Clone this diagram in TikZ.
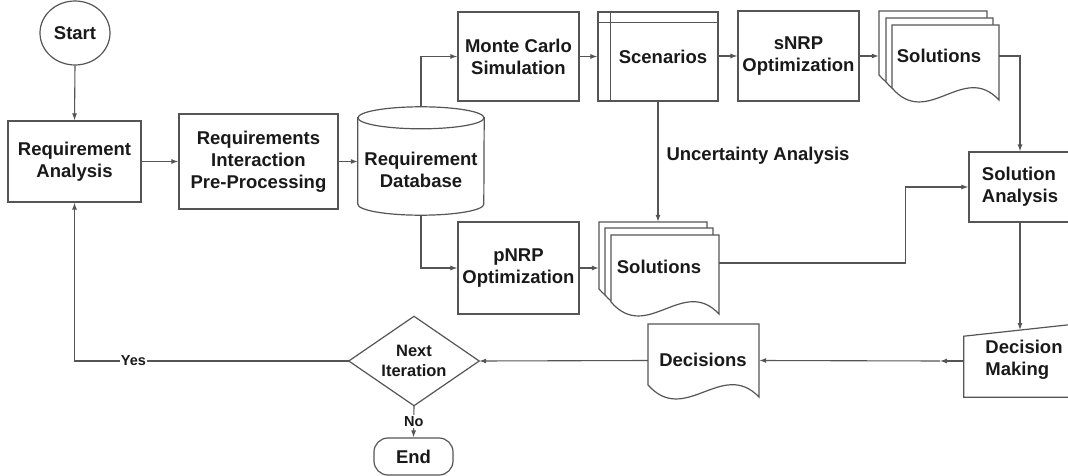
\documentclass[tikz,border=0pt]{standalone}
\usepackage{fontspec}
\setmainfont{Liberation Sans}
\usetikzlibrary{arrows.meta,calc,shapes.geometric}
\definecolor{lc}{HTML}{555555}
\newcommand\mydoc[4]{%
  \draw[ln,fill=white] (#1,#2) -- (#3,#2) -- (#3,#4)
    .. controls ({#1+2*(#3-#1)/3},{#4-38.5}) and ({#1+(#3-#1)/3},{#4+29.5}) .. (#1,{#4-12}) -- cycle;}
\tikzset{
  ln/.style={draw=lc,line width=1.2pt},
  arr/.style={draw=lc,line width=1.1pt,-{Latex[length=7pt,width=5pt]}},
  box/.style={ln,fill=white,align=center,inner sep=0pt},
  ghost/.style={align=center,inner sep=0pt},
  lbl/.style={fill=white,inner sep=1pt,font=\bfseries\fontsize{14.5}{17}\selectfont},
  every node/.style={font=\bfseries\fontsize{18.5}{22}\selectfont,text=black!90}
}
\begin{document}
\begin{tikzpicture}[x=1pt,y=-1pt]
\useasboundingbox (0,0) rectangle (1068,476);
\clip (0,0) rectangle (1068,476);
\fill[white] (0,0) rectangle (1068,476);

% nodes
\node[ln,ellipse,inner sep=0pt,minimum width=70,minimum height=64] (start) at (75,33) {Start};
\node[box,minimum width=133,minimum height=81] (ra) at (74.5,161.5) {Requirement\\Analysis};
\node[box,minimum width=159,minimum height=95] (ri) at (258.5,161.5) {Requirements\\Interaction\\Pre-Processing};

% database cylinder
\node[ghost,minimum width=126,minimum height=90] (db) at (421,170) {};
\draw[ln,fill=white] ($(db.north west)+(0,-7)$) -- ($(db.south west)+(0,-11)$)
   arc[start angle=180,end angle=0,x radius=63,y radius=11] -- ($(db.north east)+(0,-7)$) -- cycle;
\draw[ln,fill=white] ($(db.north)+(0,-7)$) ellipse [x radius=63,y radius=11];
\node[align=center] at (db.center) {Requirement\\Database};

\node[box,minimum width=121,minimum height=89] (mc) at (518.5,56.5) {Monte Carlo\\Simulation};
\node[box,minimum width=120,minimum height=89] (sc) at (658,56.5) {\hspace*{10pt}Scenarios};
\draw[ln] ($(sc.north west)+(13,0)$) -- ($(sc.south west)+(13,0)$);
\draw[ln] ($(sc.north west)+(0,11)$) -- ($(sc.north east)+(0,11)$);
\node[box,minimum width=121,minimum height=90] (sn) at (798.5,56) {sNRP\\Optimization};

% top solutions stack
\node[ghost,minimum width=120,minimum height=89] (solT) at (939,55.5) {};
\mydoc{879}{11}{987}{87}
\mydoc{886}{18}{993}{94}
\mydoc{892}{25}{999}{100}
\node at (solT.center) {Solutions};

\node[box,minimum width=102,minimum height=70,align=left] (sa) at (1020,187) {Solution\\Analysis};

\node[box,minimum width=121,minimum height=92] (pn) at (518.5,268) {pNRP\\Optimization};

% bottom solutions stack
\node[ghost,minimum width=120,minimum height=92] (solB) at (659,268) {};
\mydoc{599}{222}{707}{301}
\mydoc{605}{228}{713}{307}
\mydoc{611}{235}{719}{314}
\node at (solB.center) {\raisebox{3pt}{Solutions}};

\node[anchor=west] (ua) at (663,156) {Uncertainty Analysis};

% decision making (manual input)
\node[ghost,minimum width=120,minimum height=72] (dm) at (1024,361) {};
\draw[ln,fill=white] (dm.south west) -- ++(0,-61) -- ($(dm.south east)+(0,-74.1)$) -- (dm.south east) -- cycle;
\node[align=left] at (1024,360) {Decision\\Making};
\coordinate (dmtop) at (1020,330);

% decisions document
\node[ghost,minimum width=111,minimum height=73] (dec) at (703.5,360.5) {};
\mydoc{648}{324}{759}{397}
\node at (703,360) {Decisions};

% decision diamond
\node[ghost,minimum width=130,minimum height=89] (dia) at (414,361) {};
\draw[ln,fill=white] (dia.north) -- (dia.east) -- (dia.south) -- (dia.west) -- cycle;
\node[align=center,font=\bfseries\fontsize{16.5}{20}\selectfont] at (dia.center) {Next\\Iteration};

\node[ln,rounded corners=14pt,minimum width=79,minimum height=37,inner sep=0pt] (end) at (413.5,456.5) {End};

% connectors
\draw[arr] (start.south) -- (ra.north);
\draw[arr] (ra.east) -- (ri.west);
\draw[arr] (ri.east) -- (ri.east -| db.west);
\draw[arr] ($(db.north)+(0,-18)$) |- (mc.west);
\draw[arr] (db.south) |- (pn.west);
\draw[arr] (mc.east) -- (mc.east -| sc.west);
\draw[arr] (sc.east |- sn.west) -- (sn.west);
\draw[arr] (sn.east) -- (sn.east -| solT.west);
\draw[arr] (solT.east |- sn.east) -| (sa.north);
\draw[arr] (sc.south) -- (sc.south |- solB.north);
\draw[arr] (pn.east) -- (pn.east -| solB.west);
\draw[arr] ($(solB.east)+(0,-5)$) -- ++(186,0) |- (sa.west);
\draw[arr] (sa.south) -- (dmtop);
\coordinate (mid) at (940,361);
\draw[arr] (dm.west) -- (mid);
\draw[arr] (mid) -- (dec.east);
\draw[arr] (dec.west) -- (dia.east);
\draw[arr] (dia.west) -- node[lbl,pos=0.785] {Yes} (ra.south |- dia.west) -- (ra.south);
\draw[arr] (dia.south) -- node[lbl] {No} (end.north);
\end{tikzpicture}
\end{document}
